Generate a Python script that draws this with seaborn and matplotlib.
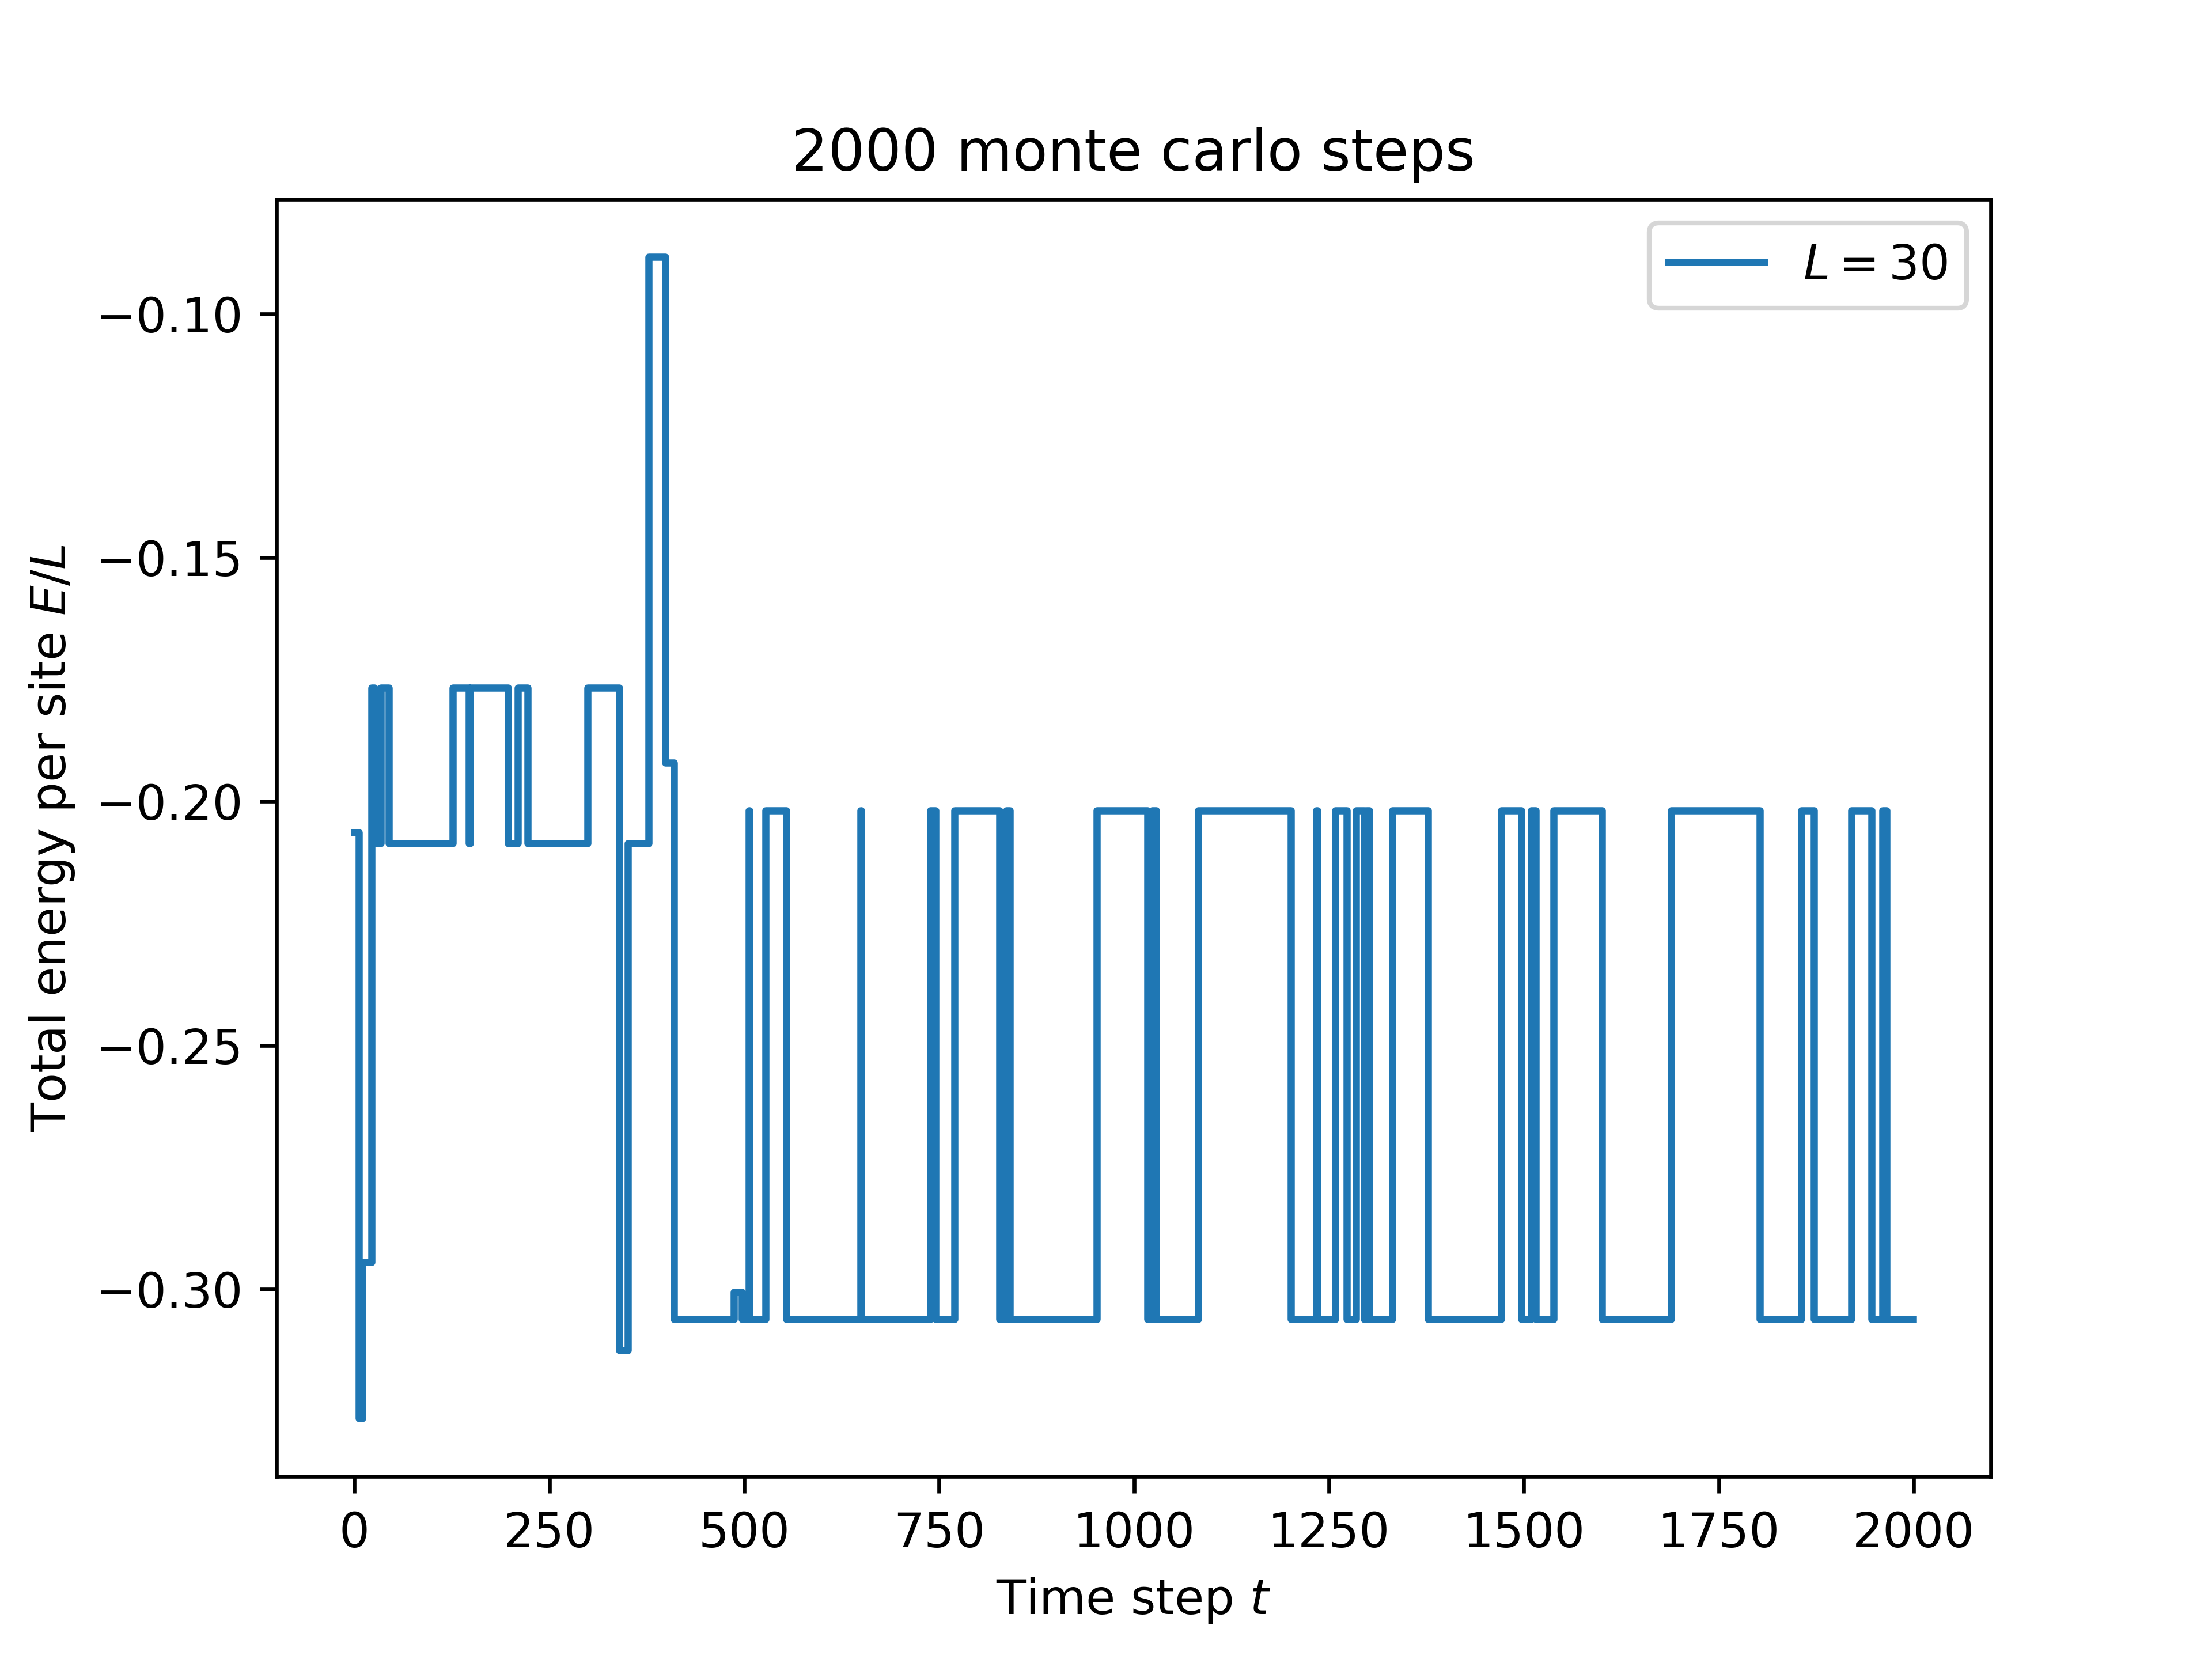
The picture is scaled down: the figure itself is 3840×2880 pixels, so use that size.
import matplotlib

matplotlib.use('Agg')
import matplotlib.pyplot as plt
import seaborn as sns

# time steps where the energy changes, last one is the end point
step_t = [0, 6, 10, 22, 26, 34, 44, 126, 147, 148, 197, 210, 222, 299, 340, 351, 377, 399, 410,
          487, 497, 506, 507, 527, 554, 649, 650, 739, 745, 770, 827, 836, 841, 952, 1017,
          1023, 1028, 1082, 1201, 1234, 1235, 1258, 1273, 1285, 1295, 1298, 1302, 1331, 1377,
          1471, 1497, 1509, 1515, 1538, 1600, 1689, 1803, 1856, 1872, 1920, 1946, 1960, 1965,
          1999]

# energy per site held from each of those steps on
energy = [-0.2063, -0.3265, -0.2945, -0.1767, -0.2086, -0.1767, -0.2086, -0.1767, -0.2086,
          -0.1767, -0.2086, -0.1767, -0.2086, -0.1767, -0.3125, -0.2086, -0.0884, -0.1920,
          -0.3061, -0.3006, -0.3061, -0.2019, -0.3061, -0.2019, -0.3061, -0.2019, -0.3061,
          -0.2019, -0.3061, -0.2019, -0.3061, -0.2019, -0.3061, -0.2019, -0.3061, -0.2019,
          -0.3061, -0.2019, -0.3061, -0.2019, -0.3061, -0.2019, -0.3061, -0.2019, -0.3061,
          -0.2019, -0.3061, -0.2019, -0.3061, -0.2019, -0.3061, -0.2019, -0.3061, -0.2019,
          -0.3061, -0.2019, -0.3061, -0.2019, -0.3061, -0.2019, -0.3061, -0.2019, -0.3061,
          -0.3061]

n_steps = 2000
system_size = 30

fig, ax = plt.subplots(figsize=(6.4, 4.8))

sns.lineplot(x=step_t, y=energy, ax=ax, drawstyle='steps-post', estimator=None,
             color='#1f77b4', linewidth=1.5, label=f'$L = {system_size}$')

ax.set_title(f"{n_steps} monte carlo steps")
ax.set_xlabel("Time step $t$")
ax.set_ylabel("Total energy per site $E/L$")
ax.legend(loc='upper right')

plt.savefig('out.png', dpi=600)
plt.close(fig)
